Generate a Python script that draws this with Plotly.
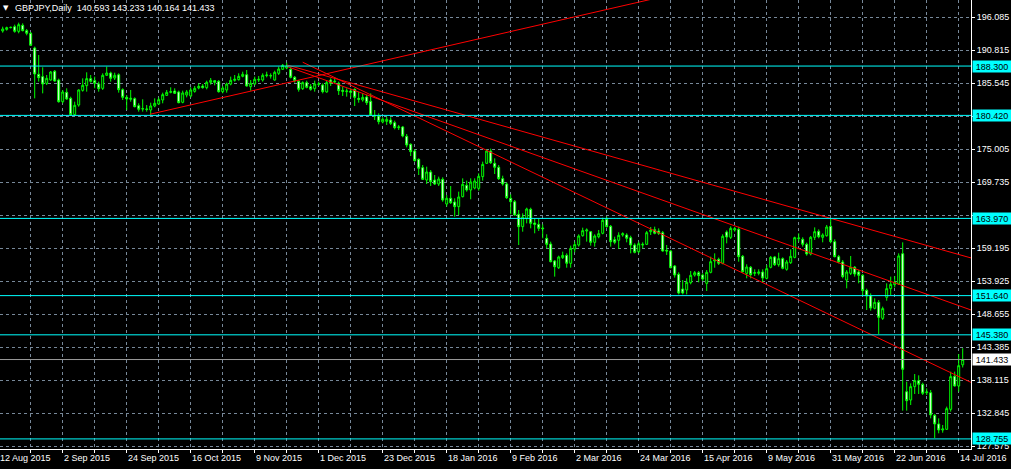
import plotly.graph_objects as go

# ---------------- data: GBPJPY daily bars (index 0 .. 240, last bar = 15 Jul 2016) ----------------
opens = [
    193.90, 194.16, 194.43, 194.59, 193.84, 194.80, 193.95, 193.53, 191.18, 186.98,
    186.61, 185.54, 186.07, 187.46, 186.07, 182.61, 184.10, 183.14, 180.54, 182.08,
    184.42, 185.17, 186.29, 185.97, 185.43, 184.74, 186.82, 187.19, 186.39, 186.92,
    184.53, 183.30, 182.99, 183.09, 181.97, 181.44, 181.44, 181.28, 181.92, 182.24,
    182.88, 183.62, 184.10, 184.32, 184.16, 182.51, 183.68, 183.52, 184.26, 184.79,
    185.11, 184.85, 185.70, 185.97, 185.86, 184.21, 184.48, 185.43, 186.02, 186.13,
    186.66, 186.92, 185.01, 185.43, 186.07, 186.07, 186.77, 186.71, 186.07, 187.14,
    187.78, 187.99, 187.78, 186.50, 185.86, 184.69, 185.65, 185.01, 184.69, 185.38,
    185.27, 184.16, 186.07, 185.75, 185.54, 184.42, 184.21, 184.32, 184.58, 183.14,
    182.88, 183.36, 182.67, 180.43, 180.32, 179.37, 179.47, 179.68, 179.26, 178.46,
    178.57, 177.08, 175.80, 174.73, 173.40, 172.07, 170.10, 171.38, 170.10, 169.46,
    170.21, 166.27, 167.18, 166.59, 165.85, 167.44, 169.25, 168.51, 168.82, 168.77,
    170.64, 172.77, 174.73, 172.77, 172.13, 170.32, 169.46, 167.17, 166.64, 164.62,
    162.65, 163.98, 165.42, 163.24, 163.02, 162.44, 160.79, 159.88, 157.17, 156.10,
    157.70, 158.07, 156.80, 159.08, 159.72, 161.21, 161.96, 161.85, 160.15, 161.05,
    161.59, 163.82, 162.70, 160.57, 160.47, 161.32, 161.32, 160.89, 159.72, 158.66,
    159.72, 159.83, 161.85, 162.17, 161.96, 161.69, 158.87, 158.76, 156.37, 155.04,
    152.70, 152.54, 153.71, 154.93, 155.30, 154.93, 153.60, 155.36, 157.17, 157.43,
    156.80, 161.80, 160.95, 162.12, 162.22, 157.91, 155.20, 156.16, 155.20, 155.20,
    155.41, 154.40, 156.16, 157.81, 156.58, 157.54, 155.84, 156.90, 157.75, 160.73,
    160.63, 159.83, 158.29, 160.95, 161.91, 160.95, 161.21, 162.70, 160.26, 157.86,
    157.01, 154.13, 155.20, 156.16, 155.41, 154.88, 152.48, 151.63, 149.61, 150.57,
    148.01, 151.37, 152.75, 153.39, 153.49, 158.34, 136.30, 134.97, 137.10, 138.06,
    137.47, 136.14, 136.14, 132.52, 131.14, 130.18, 130.29, 133.48, 138.75, 137.21,
    140.593,
]
highs = [
    194.59, 194.59, 194.59, 194.91, 195.23, 195.12, 194.22, 193.74, 191.40, 190.07,
    188.10, 186.87, 187.51, 187.67, 186.29, 184.48, 184.74, 183.41, 182.61, 184.58,
    186.34, 187.30, 186.87, 186.61, 185.81, 187.14, 188.20, 187.40, 187.24, 187.14,
    184.74, 183.68, 184.48, 183.30, 182.35, 182.99, 182.08, 182.45, 183.14, 183.30,
    184.05, 184.48, 184.90, 184.74, 184.37, 184.37, 184.48, 184.90, 185.11, 185.54,
    185.43, 185.97, 186.39, 186.07, 186.07, 185.11, 185.65, 186.61, 186.87, 187.14,
    187.40, 187.67, 186.07, 186.61, 186.71, 187.14, 187.40, 187.14, 187.56, 188.20,
    188.63, 188.84, 188.10, 186.71, 186.07, 185.86, 185.97, 185.43, 185.97, 185.81,
    185.54, 185.97, 186.34, 186.50, 185.81, 185.01, 184.74, 184.74, 184.74, 184.21,
    183.94, 183.68, 183.94, 181.28, 180.75, 180.11, 180.22, 180.11, 179.58, 178.89,
    178.73, 177.45, 175.96, 175.00, 173.56, 172.50, 172.23, 171.70, 170.90, 170.64,
    170.53, 167.71, 169.14, 167.18, 168.24, 170.37, 170.00, 170.37, 170.37, 171.17,
    173.03, 175.00, 175.11, 173.56, 172.50, 170.79, 169.73, 167.81, 166.91, 165.31,
    164.78, 165.68, 165.68, 163.98, 163.87, 163.02, 161.43, 160.26, 157.33, 158.02,
    158.66, 158.39, 159.62, 160.26, 161.43, 162.49, 162.38, 161.96, 161.43, 162.12,
    164.09, 164.25, 162.92, 161.05, 161.75, 161.75, 161.59, 161.21, 159.99, 160.26,
    160.15, 161.96, 162.60, 162.65, 162.38, 161.96, 159.72, 158.92, 156.53, 155.36,
    154.13, 154.40, 155.57, 155.57, 155.57, 155.20, 155.73, 157.86, 158.39, 157.70,
    161.43, 162.06, 162.70, 162.60, 162.65, 158.13, 156.64, 156.37, 155.84, 155.84,
    155.84, 156.53, 157.97, 157.97, 158.50, 157.75, 157.33, 159.03, 161.05, 161.59,
    160.95, 160.10, 161.16, 162.54, 162.22, 161.59, 162.92, 163.98, 160.63, 158.13,
    157.33, 155.73, 157.97, 156.37, 155.73, 155.09, 152.75, 152.00, 151.21, 150.94,
    149.88, 153.60, 154.67, 154.77, 158.39, 160.15, 137.90, 137.63, 139.12, 138.91,
    137.74, 136.83, 136.57, 132.74, 132.04, 130.98, 133.91, 139.50, 139.50, 142.32,
    143.233,
]
lows = [
    193.63, 193.95, 194.32, 193.63, 193.53, 193.84, 193.21, 191.50, 183.14, 185.81,
    183.94, 185.27, 185.97, 185.81, 182.45, 182.35, 182.88, 180.32, 180.32, 181.81,
    184.21, 184.21, 185.65, 184.74, 184.21, 184.48, 186.71, 185.81, 186.07, 184.05,
    182.88, 181.28, 182.61, 181.71, 181.02, 181.02, 181.02, 180.48, 181.71, 182.08,
    182.35, 183.52, 183.94, 183.84, 182.35, 182.35, 183.30, 183.30, 184.05, 184.58,
    184.69, 184.58, 185.33, 185.22, 184.05, 183.94, 184.05, 185.22, 185.81, 185.97,
    186.50, 185.01, 184.37, 185.22, 185.75, 185.81, 186.50, 186.29, 185.97, 186.87,
    187.67, 187.78, 186.34, 185.65, 184.21, 184.48, 184.74, 184.37, 184.21, 185.11,
    183.94, 184.05, 185.11, 185.54, 183.68, 183.52, 183.41, 183.30, 181.92, 182.45,
    182.61, 182.08, 180.32, 179.68, 178.99, 179.15, 178.89, 178.89, 178.19, 178.09,
    176.92, 175.32, 173.93, 173.03, 170.90, 170.10, 169.46, 169.14, 169.30, 169.14,
    166.64, 165.85, 166.27, 164.25, 164.51, 167.33, 168.24, 167.02, 168.61, 168.40,
    170.00, 172.66, 172.66, 171.06, 170.10, 169.20, 167.07, 164.62, 164.41, 159.72,
    161.85, 163.18, 162.38, 161.59, 161.96, 160.79, 159.19, 156.95, 154.67, 155.89,
    157.49, 156.10, 156.10, 158.55, 159.46, 161.05, 160.26, 159.62, 159.46, 160.79,
    161.43, 162.49, 159.46, 159.83, 159.08, 161.05, 160.15, 158.39, 158.39, 158.39,
    159.19, 159.72, 161.32, 161.43, 161.32, 158.66, 158.13, 156.00, 154.51, 151.84,
    151.84, 151.84, 153.44, 154.67, 153.76, 153.97, 152.38, 155.20, 156.10, 156.53,
    156.64, 159.99, 160.68, 161.85, 157.06, 155.30, 154.40, 154.40, 154.77, 154.88,
    153.71, 154.24, 156.00, 156.37, 156.26, 155.84, 155.62, 156.69, 157.59, 160.26,
    159.46, 158.02, 158.07, 160.52, 160.79, 160.15, 161.05, 159.99, 157.75, 156.80,
    154.40, 152.80, 154.93, 154.67, 153.60, 151.58, 149.34, 149.24, 149.45, 145.51,
    147.75, 150.83, 151.74, 152.96, 153.34, 133.27, 133.27, 134.17, 135.93, 135.93,
    135.77, 135.77, 132.04, 128.90, 129.65, 129.75, 130.18, 133.11, 137.10, 136.30,
    140.164,
]
closes = [
    194.22, 194.43, 194.48, 193.84, 194.91, 193.95, 193.53, 191.61, 187.03, 186.45,
    185.43, 186.34, 187.35, 185.91, 182.61, 184.16, 183.04, 180.54, 182.03, 184.48,
    185.22, 186.29, 185.86, 185.54, 184.69, 186.82, 187.19, 186.34, 186.82, 184.53,
    183.30, 183.04, 183.14, 181.81, 181.39, 181.49, 181.39, 181.92, 182.35, 182.93,
    183.73, 184.10, 184.21, 183.94, 182.45, 184.00, 184.16, 184.48, 184.74, 185.06,
    184.85, 185.70, 186.02, 185.70, 184.21, 184.79, 185.43, 186.02, 186.18, 186.66,
    186.98, 185.11, 185.54, 186.18, 186.18, 186.82, 186.87, 186.77, 187.30, 187.83,
    188.41, 188.31, 186.50, 185.97, 184.58, 185.65, 184.90, 184.58, 185.43, 185.43,
    184.21, 185.65, 185.54, 185.86, 184.37, 184.26, 184.32, 184.10, 183.30, 182.98,
    183.30, 182.45, 180.48, 180.32, 179.42, 179.79, 179.79, 179.15, 178.46, 178.57,
    177.13, 175.69, 174.63, 173.19, 171.97, 170.21, 171.38, 169.84, 169.46, 170.26,
    166.91, 167.18, 166.48, 165.85, 167.39, 169.41, 168.51, 169.78, 169.94, 170.69,
    172.60, 174.73, 172.87, 172.13, 170.32, 169.46, 167.28, 166.64, 164.51, 162.65,
    164.19, 165.47, 163.18, 163.02, 162.38, 162.33, 159.83, 157.06, 156.26, 157.81,
    158.07, 156.80, 159.19, 159.78, 161.16, 162.01, 162.12, 160.15, 161.16, 161.53,
    163.66, 162.65, 160.26, 160.15, 161.27, 161.53, 160.79, 159.72, 158.55, 159.93,
    159.83, 161.69, 162.12, 161.59, 161.59, 158.76, 158.76, 156.10, 154.93, 152.06,
    152.06, 153.76, 154.88, 155.30, 154.83, 154.29, 155.36, 157.06, 157.33, 156.80,
    161.11, 161.00, 162.38, 162.33, 157.86, 155.46, 156.21, 154.99, 155.31, 155.41,
    154.45, 155.94, 157.75, 156.58, 157.54, 156.00, 157.01, 157.91, 160.89, 160.84,
    159.83, 158.29, 160.95, 161.85, 161.05, 161.32, 162.60, 160.26, 157.86, 157.06,
    154.67, 155.41, 156.16, 155.09, 154.88, 152.43, 151.58, 149.66, 150.57, 148.17,
    149.56, 152.75, 153.44, 153.81, 157.97, 139.87, 134.86, 137.10, 138.06, 137.47,
    136.04, 136.25, 132.58, 131.14, 130.18, 130.34, 133.59, 138.70, 137.21, 140.45,
    141.433,
]

# date labels on the time scale (bar index -> label); bar -1 is just off the left edge
x_label_bars = [-1, 15, 31, 47, 63, 79, 95, 111, 127, 143, 159, 175, 191, 207, 223, 239]
x_labels = ["12 Aug 2015", "2 Sep 2015", "24 Sep 2015", "16 Oct 2015", "9 Nov 2015",
            "1 Dec 2015", "23 Dec 2015", "18 Jan 2016", "9 Feb 2016", "2 Mar 2016",
            "24 Mar 2016", "15 Apr 2016", "9 May 2016", "31 May 2016", "22 Jun 2016",
            "14 Jul 2016"]

# price scale labels
y_labels = ["196.085", "190.815", "185.545", "180.275", "175.005", "169.735", "164.465",
            "159.195", "153.925", "148.655", "143.385", "138.115", "132.845", "127.575"]
y_hidden = ["180.275", "164.465"]   # covered by the level labels

# horizontal levels (cyan) and current bid
levels = [188.300, 180.420, 163.970, 151.640, 145.380, 128.755]
bid = 141.433

# red trend lines: two anchor points (bar index, price), drawn as rays to the right
trend_lines = [
    ((36.8, 180.60), (84.3, 187.56)),
    ((71.1, 188.47), (242.1, 157.65)),
    ((71.1, 188.23), (242.1, 149.34)),
    ((75.0, 188.91), (242.1, 137.77)),
]

symbol = "GBPJPY,Daily"

# ---------------- styling / layout constants ----------------
W, H = 1011, 469
ML, MR, MT, MB = 0, 40, 0, 20
PW, PH = W - ML - MR, H - MT - MB
X0, X1 = -0.675, 242.075
Y0, Y1 = 127.146, 198.848
FONT = "'Liberation Sans', Arial, sans-serif"
FS = 9
GREEN = "#00ff00"
CYAN = "#00ffff"
GRID = "#778899"

bars = list(range(len(opens)))

fig = go.Figure()
fig.add_trace(go.Candlestick(
    x=bars, open=opens, high=highs, low=lows, close=closes,
    increasing=dict(line=dict(color=GREEN, width=1), fillcolor="#000000"),
    decreasing=dict(line=dict(color=GREEN, width=1), fillcolor="#ffffff"),
    whiskerwidth=0, hoverinfo="skip", showlegend=False,
))

for (b1, p1), (b2, p2) in trend_lines:
    slope = (p2 - p1) / (b2 - b1)
    fig.add_trace(go.Scatter(
        x=[b1, X1], y=[p1, p1 + slope * (X1 - b1)], mode="lines",
        line=dict(color="#ff0000", width=1), hoverinfo="skip", showlegend=False,
    ))

shapes = []
annotations = []
for lv in levels:
    shapes.append(dict(type="line", xref="paper", x0=0, x1=1, yref="y", y0=lv, y1=lv,
                       line=dict(color=CYAN, width=1), layer="above"))
    annotations.append(dict(xref="paper", x=1, xanchor="left", xshift=1, yref="y", y=lv,
                            yanchor="middle", text=f"{lv:.3f}", showarrow=False,
                            bgcolor=CYAN, width=38, height=11, borderpad=0,
                            font=dict(family=FONT, size=FS, color="#000000")))
shapes.append(dict(type="line", xref="paper", x0=0, x1=1, yref="y", y0=bid, y1=bid,
                   line=dict(color="#9a9a9a", width=1), layer="above"))
annotations.append(dict(xref="paper", x=1, xanchor="left", xshift=1, yref="y", y=bid,
                        yanchor="middle", text=f"{bid:.3f}", showarrow=False,
                        bgcolor="#ffffff", width=38, height=11, borderpad=0,
                        font=dict(family=FONT, size=FS, color="#000000")))

# header text
ohlc_txt = f"{opens[-1]:.3f} {highs[-1]:.3f} {lows[-1]:.3f} {closes[-1]:.3f}"
annotations.append(dict(xref="paper", x=1 / PW, xanchor="left", yref="paper", y=1 - 8.5 / PH,
                        yanchor="middle", text="▼", showarrow=False,
                        font=dict(family="DejaVu Sans", size=7, color="#ffffff")))
annotations.append(dict(xref="paper", x=13 / PW, xanchor="left", yref="paper", y=1 - 8 / PH,
                        yanchor="middle", text=f"{symbol}  {ohlc_txt}", showarrow=False,
                        font=dict(family=FONT, size=FS, color="#ffffff")))

# date labels drawn left-aligned at their bar, MT4 style
for b, lab in zip(x_label_bars, x_labels):
    annotations.append(dict(xref="paper", x=(b - X0) / (X1 - X0), xanchor="left", xshift=-1,
                            yref="paper", y=-9 / PH, yanchor="middle", text=lab,
                            showarrow=False, font=dict(family=FONT, size=FS, color="#ffffff")))

# x grid every 8 bars (tick marks only)
x_tickvals = []
for b in x_label_bars[1:]:
    x_tickvals += [b - 8, b]

y_tickvals = [float(s) for s in y_labels]
y_ticktext = ["" if s in y_hidden else s for s in y_labels]

fig.update_layout(
    template="none",
    width=W, height=H,
    margin=dict(l=ML, r=MR, t=MT, b=MB, pad=0),
    paper_bgcolor="#000000", plot_bgcolor="#000000",
    hovermode=False, showlegend=False,
    shapes=shapes, annotations=annotations,
    font=dict(family=FONT, size=FS, color="#ffffff"),
    xaxis=dict(range=[X0, X1], rangeslider=dict(visible=False), automargin=False,
               showgrid=True, gridcolor=GRID, griddash="3px,3px", gridwidth=1,
               zeroline=False, showline=True, linecolor="#ffffff", linewidth=1,
               tickmode="array", tickvals=x_tickvals, showticklabels=False,
               ticks="outside", ticklen=3, tickcolor="#ffffff"),
    yaxis=dict(range=[Y0, Y1], side="right", automargin=False,
               showgrid=True, gridcolor=GRID, griddash="3px,3px", gridwidth=1,
               zeroline=False, showline=True, linecolor="#ffffff", linewidth=1,
               tickmode="array", tickvals=y_tickvals, ticktext=y_ticktext,
               ticks="outside", ticklen=3, tickcolor="#ffffff",
               tickfont=dict(family=FONT, size=FS, color="#ffffff")),
)

fig.write_html(
    "out.html",
    config={"displayModeBar": False},
    post_script="document.body.style.margin='0';document.body.style.background='#000';",
)
